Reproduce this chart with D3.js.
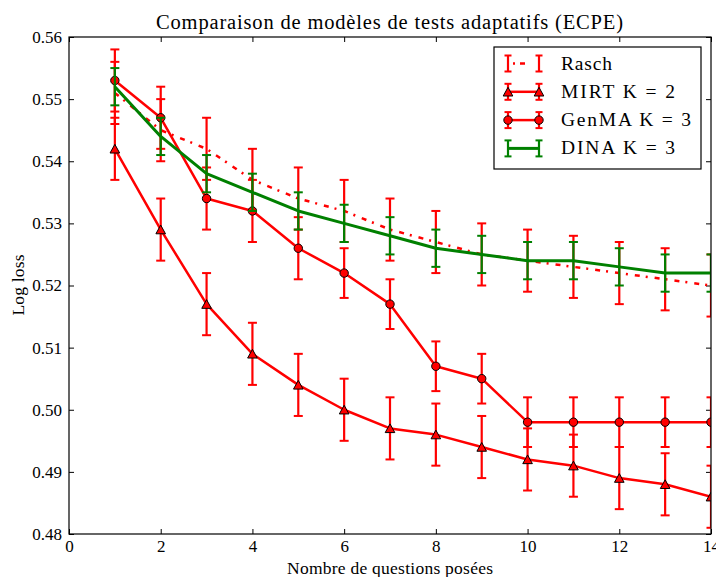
<!DOCTYPE html>
<html><head><meta charset="utf-8">
<script src="https://cdn.jsdelivr.net/npm/d3@7"></script>
<style>
body{margin:0;background:#fff}
svg{display:block}
text{font-family:"Liberation Serif","Times New Roman",serif;fill:#000}
</style>
</head><body>
<svg id="chart" width="716" height="577"></svg>
<script>
// ---- data ----
const questions = [1,2,3,4,5,6,7,8,9,10,11,12,13,14];
const raschMean = [0.551,0.545,0.542,0.537,0.534,0.532,0.529,0.527,0.525,0.524,0.523,0.522,0.521,0.520];
const raschErr  = [0.005,0.005,0.005,0.005,0.005,0.005,0.005,0.005,0.005,0.005,0.005,0.005,0.005,0.005];
const mirtMean  = [0.542,0.529,0.517,0.509,0.504,0.500,0.497,0.496,0.494,0.492,0.491,0.489,0.488,0.486];
const mirtErr   = [0.005,0.005,0.005,0.005,0.005,0.005,0.005,0.005,0.005,0.005,0.005,0.005,0.005,0.005];
const genmaMean = [0.553,0.547,0.534,0.532,0.526,0.522,0.517,0.507,0.505,0.498,0.498,0.498,0.498,0.498];
const genmaErr  = [0.005,0.005,0.005,0.005,0.005,0.004,0.004,0.004,0.004,0.004,0.004,0.004,0.004,0.004];
const dinaMean  = [0.552,0.544,0.538,0.535,0.532,0.530,0.528,0.526,0.525,0.524,0.524,0.523,0.522,0.522];
const dinaErr   = [0.003,0.003,0.003,0.003,0.003,0.003,0.003,0.003,0.003,0.003,0.003,0.003,0.003,0.003];
const seriesNames = ["Rasch","MIRT K = 2","GenMA K = 3","DINA K = 3"];
const xTicks = [0,2,4,6,8,10,12,14];
const yTicks = [0.48,0.49,0.50,0.51,0.52,0.53,0.54,0.55,0.56];
const titleText = "Comparaison de modèles de tests adaptatifs (ECPE)";
const xLabelText = "Nombre de questions posées";
const yLabelText = "Log loss";

// ---- styles ----
const RED = "#ff0000", GREEN = "#008000";
const styles = [
  {color:RED,   width:2.5, dash:"5,6,2,7", marker:null},
  {color:RED,   width:2.5, dash:null, marker:"triangle"},
  {color:RED,   width:2.5, dash:null, marker:"circle"},
  {color:GREEN, width:3,   dash:null, marker:null}
];
const legendTextWidths = [51,114,130,114];

const series = [
  {name:seriesNames[0], mean:raschMean, err:raschErr},
  {name:seriesNames[1], mean:mirtMean,  err:mirtErr},
  {name:seriesNames[2], mean:genmaMean, err:genmaErr},
  {name:seriesNames[3], mean:dinaMean,  err:dinaErr}
];

const svg = d3.select("#chart");
const L = 69, R = 711, T = 37, B = 534;
const x = d3.scaleLinear().domain([0,14]).range([L,R]);
const y = d3.scaleLinear().domain([0.48,0.56]).range([B,T]);

// clip
svg.append("defs").append("clipPath").attr("id","plotclip")
  .append("rect").attr("x",L).attr("y",T).attr("width",R-L).attr("height",B-T);

// axes (inward ticks)
const fmtY = d3.format(".2f");
const gx = svg.append("g").attr("transform",`translate(0,${B})`)
  .call(d3.axisBottom(x).tickValues(xTicks).tickFormat(d3.format("d")).tickSizeInner(-5).tickSizeOuter(0).tickPadding(6));
const gy = svg.append("g").attr("transform",`translate(${L},0)`)
  .call(d3.axisLeft(y).tickValues(yTicks).tickFormat(fmtY).tickSizeInner(-5).tickSizeOuter(0).tickPadding(7));
const gt = svg.append("g").attr("transform",`translate(0,${T})`)
  .call(d3.axisTop(x).tickValues(xTicks).tickFormat("").tickSizeInner(-5).tickSizeOuter(0));
const gr = svg.append("g").attr("transform",`translate(${R},0)`)
  .call(d3.axisRight(y).tickValues(yTicks).tickFormat("").tickSizeInner(-5).tickSizeOuter(0));
[gx,gy,gt,gr].forEach(g=>{
  g.select(".domain").remove();
  g.selectAll(".tick line").attr("stroke","#000").attr("stroke-width",1);
  g.selectAll("text").attr("font-family",'"Liberation Serif",serif').attr("font-size",17).attr("fill","#000");
});

// plot contents
const plot = svg.append("g").attr("clip-path","url(#plotclip)");
const capHalf = 4.5;
const triPath = "M0,-4.5L4.8,4.2L-4.8,4.2Z";

series.forEach((s,i)=>{
  const st = styles[i];
  const g = plot.append("g");
  const pts = questions.map((q,j)=>({q, m:s.mean[j], e:s.err[j]}));
  // error bars
  const eb = g.append("g").attr("stroke",st.color).attr("stroke-width",2.2).attr("fill","none");
  pts.forEach(p=>{
    const cx = x(p.q), y1 = y(p.m - p.e), y2 = y(p.m + p.e);
    eb.append("line").attr("x1",cx).attr("x2",cx).attr("y1",y1).attr("y2",y2);
    eb.append("line").attr("x1",cx-capHalf).attr("x2",cx+capHalf).attr("y1",y1).attr("y2",y1).attr("stroke-width",2);
    eb.append("line").attr("x1",cx-capHalf).attr("x2",cx+capHalf).attr("y1",y2).attr("y2",y2).attr("stroke-width",2);
  });
  // line
  const line = d3.line().x(p=>x(p.q)).y(p=>y(p.m));
  const path = g.append("path").datum(pts).attr("d",line).attr("fill","none")
    .attr("stroke",st.color).attr("stroke-width",st.width).attr("stroke-linejoin","round");
  if(st.dash) path.attr("stroke-dasharray",st.dash);
  // markers
  if(st.marker==="circle"){
    g.selectAll("circle.m").data(pts).join("circle").attr("class","m")
      .attr("cx",p=>x(p.q)).attr("cy",p=>y(p.m)).attr("r",4.2)
      .attr("fill",RED).attr("stroke","#000").attr("stroke-width",1);
  } else if(st.marker==="triangle"){
    g.selectAll("path.m").data(pts).join("path").attr("class","m")
      .attr("d",triPath).attr("transform",p=>`translate(${x(p.q)},${y(p.m)})`)
      .attr("fill",RED).attr("stroke","#000").attr("stroke-width",1);
  }
});

// frame
svg.append("rect").attr("x",L).attr("y",T).attr("width",R-L).attr("height",B-T)
  .attr("fill","none").attr("stroke","#000").attr("stroke-width",1.2);

// title & labels
svg.append("text").attr("x",389.5).attr("y",29).attr("text-anchor","middle")
  .attr("font-size",20.5).attr("textLength",467).attr("lengthAdjust","spacing").text(titleText);
svg.append("text").attr("x",390).attr("y",574).attr("text-anchor","middle")
  .attr("font-size",17.5).attr("textLength",206).attr("lengthAdjust","spacing").text(xLabelText);
svg.append("text").attr("transform","translate(24,285) rotate(-90)").attr("text-anchor","middle")
  .attr("font-size",17.5).attr("textLength",61).attr("lengthAdjust","spacing").text(yLabelText);

// legend
const lg = svg.append("g");
lg.append("rect").attr("x",494).attr("y",47).attr("width",207).attr("height",122)
  .attr("fill","#fff").attr("stroke","#000").attr("stroke-width",1.2);
const hx1 = 508, hx2 = 539;
series.forEach((s,i)=>{
  const st = styles[i];
  const cy = 63.5 + i*28.3;
  const g = lg.append("g");
  [hx1,hx2].forEach(hx=>{
    g.append("line").attr("x1",hx).attr("x2",hx).attr("y1",cy-8).attr("y2",cy+8).attr("stroke",st.color).attr("stroke-width",2.2);
    g.append("line").attr("x1",hx-3.5).attr("x2",hx+3.5).attr("y1",cy-8).attr("y2",cy-8).attr("stroke",st.color).attr("stroke-width",2);
    g.append("line").attr("x1",hx-3.5).attr("x2",hx+3.5).attr("y1",cy+8).attr("y2",cy+8).attr("stroke",st.color).attr("stroke-width",2);
  });
  const l = g.append("line").attr("x1",hx1).attr("x2",hx2).attr("y1",cy).attr("y2",cy)
    .attr("stroke",st.color).attr("stroke-width",st.width);
  if(st.dash) l.attr("stroke-dasharray","0,5,2,5,5,14");
  [hx1,hx2].forEach(hx=>{
    if(st.marker==="circle") g.append("circle").attr("cx",hx).attr("cy",cy).attr("r",4.2).attr("fill",RED).attr("stroke","#000");
    if(st.marker==="triangle") g.append("path").attr("d",triPath).attr("transform",`translate(${hx},${cy})`).attr("fill",RED).attr("stroke","#000");
  });
  g.append("text").attr("x",561).attr("y",cy+6).attr("font-size",19.5)
    .attr("textLength",legendTextWidths[i]).attr("lengthAdjust","spacing").text(s.name);
});
</script>
</body></html>
